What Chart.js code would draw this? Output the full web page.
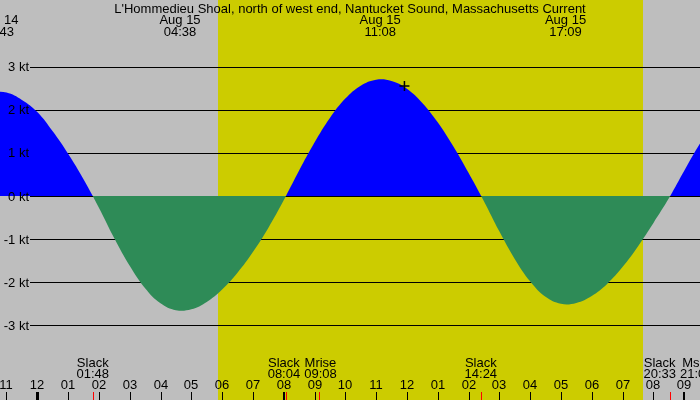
<!DOCTYPE html>
<html>
<head>
<meta charset="utf-8">
<script src="https://cdn.jsdelivr.net/npm/chart.js@4/dist/chart.umd.min.js"></script>
<style>
  html,body{margin:0;padding:0;background:#bebebe;}
  canvas{display:block;}
</style>
</head>
<body>
<canvas id="tide" width="700" height="400"></canvas>
<script>
// current speed read every half hour, hours from midnight Aug 15 (negative = Aug 14)
const hours   = [-1.5, -1.0, -0.5, 0.0, 0.5, 1.0, 1.5, 2.0, 2.5, 3.0, 3.5, 4.0, 4.5, 5.0, 5.5, 6.0,
                 6.5, 7.0, 7.5, 8.0, 8.5, 9.0, 9.5, 10.0, 10.5, 11.0, 11.5, 12.0, 12.5, 13.0, 13.5,
                 14.0, 14.5, 15.0, 15.5, 16.0, 16.5, 17.0, 17.5, 18.0, 18.5, 19.0, 19.5, 20.0, 20.5,
                 21.0, 21.5, 22.0];
const speedKt = [2.41, 2.40, 2.23, 1.95, 1.50, 0.98, 0.39, -0.27, -0.98, -1.62, -2.14, -2.49, -2.65, -2.63, -2.46, -2.17,
                 -1.78, -1.30, -0.74, -0.10, 0.59, 1.24, 1.81, 2.26, 2.56, 2.70, 2.67, 2.49, 2.16, 1.71, 1.16,
                 0.54, -0.12, -0.82, -1.46, -1.98, -2.34, -2.50, -2.48, -2.32, -2.04, -1.65, -1.17, -0.63, -0.06,
                 0.58, 1.20, 1.75];

// "now" marker
const nowHour = 11.92;
const nowKt = 2.55;

// y axis
const yTicks = [3, 2, 1, 0, -1, -2, -3];
const yTickLabels = ['3 kt', '2 kt', '1 kt', '0 kt', '-1 kt', '-2 kt', '-3 kt'];

// hour ticks along the bottom
const hourTicks = [-1, 0, 1, 2, 3, 4, 5, 6, 7, 8, 9, 10, 11, 12, 13, 14, 15, 16, 17, 18, 19, 20, 21];
const hourTickLabels = ['11', '12', '01', '02', '03', '04', '05', '06', '07', '08', '09', '10', '11', '12', '01', '02', '03', '04', '05', '06', '07', '08', '09'];

// max flood / ebb events on top
const peakHours = [-1.283, 4.633, 11.133, 17.15];
const peakDates = ['Aug 14', 'Aug 15', 'Aug 15', 'Aug 15'];
const peakTimes = ['22:43', '04:38', '11:08', '17:09'];

// slack + moon events at the bottom
const eventHours = [1.8, 8.067, 9.133, 14.4, 20.55, 21.05];
const eventNames = ['Slack', 'Slack', 'Mrise', 'Slack', 'Slack', 'Mset'];
const eventTimes = ['01:48', '08:04', '09:08', '14:24', '20:33', '21:03'];
const eventMarked = [true, true, true, true, true, false];

// daylight
const sunrise = 5.867;
const sunset = 19.667;

const FONT = '13px "Liberation Sans", Arial, sans-serif';

const backdrop = {
  id: 'backdrop',
  beforeDraw(chart){
    let c = chart.ctx, x = chart.scales.x, y = chart.scales.y;
    c.save();
    c.fillStyle = '#bebebe';
    c.fillRect(0, 0, chart.width, chart.height);
    let x0 = Math.round(x.getPixelForValue(sunrise)), x1 = Math.round(x.getPixelForValue(sunset));
    c.fillStyle = '#cccc00';
    c.fillRect(x0, 0, x1 - x0, chart.height);
    // grid lines under the fill
    c.strokeStyle = '#000';
    c.lineWidth = 1;
    yTicks.forEach(v => {
      let py = Math.round(y.getPixelForValue(v)) + 0.5;
      c.beginPath(); c.moveTo(30, py); c.lineTo(chart.width, py); c.stroke();
    });
    c.restore();
  }
};

const labels = {
  id: 'labels',
  afterDraw(chart){
    let c = chart.ctx, x = chart.scales.x, y = chart.scales.y;
    c.save();
    c.font = FONT;
    c.fillStyle = '#000';

    // y labels
    c.textAlign = 'right';
    c.textBaseline = 'middle';
    yTicks.forEach((v, i) => c.fillText(yTickLabels[i], 29, y.getPixelForValue(v) + 1));

    // title
    c.textBaseline = 'alphabetic';
    c.textAlign = 'center';
    c.fillText("L'Hommedieu Shoal, north of west end, Nantucket Sound, Massachusetts Current", 350, 12.5);

    // peak labels
    peakHours.forEach((h, i) => {
      let px = x.getPixelForValue(h);
      c.fillText(peakDates[i], px, 24);
      c.fillText(peakTimes[i], px, 36);
    });

    // bottom event labels; overlapping neighbours are pushed apart evenly
    let boxes = eventHours.map((h, i) => {
      let wn = c.measureText(eventNames[i]).width, wt = c.measureText(eventTimes[i]).width;
      let w = Math.max(wn, wt);
      return {left: x.getPixelForValue(h) - w / 2, w, wn, wt};
    });
    for(let i = 1; i < boxes.length; i++){
      let a = boxes[i-1], b = boxes[i];
      let ov = a.left + a.w + 4 - b.left;
      if(ov > 0){ a.left -= ov / 2; b.left += ov / 2; }
    }
    c.textAlign = 'left';
    boxes.forEach((b, i) => {
      c.fillText(eventNames[i], b.left + (b.w - b.wn) / 2, 366.5);
      c.fillText(eventTimes[i], b.left + (b.w - b.wt) / 2, 377.5);
    });

    // hour labels and ticks
    c.textAlign = 'center';
    hourTicks.forEach((h, i) => {
      let px = Math.round(x.getPixelForValue(h));
      c.fillText(hourTickLabels[i], px, 389);
      if(h === 0) c.fillRect(px - 1, 392, 3, 8);
      else if(h === 21 || h === 8) c.fillRect(px - 1, 392, 2, 8);
      else c.fillRect(px, 392, 1, 8);
    });
    c.fillStyle = '#ff0000';
    eventHours.forEach((h, i) => {
      if(!eventMarked[i]) return;
      let px = Math.round(x.getPixelForValue(h));
      c.fillRect(px, 392, 1, 8);
    });
    c.restore();
  }
};

new Chart(document.getElementById('tide'), {
  type: 'line',
  data: {
    datasets: [
      {
        data: hours.map((h, i) => ({x: h, y: speedKt[i]})),
        order: 1,
        borderWidth: 0,
        borderColor: 'rgba(0,0,0,0)',
        pointRadius: 0,
        tension: 0.4,
        fill: {target: 'origin', above: '#0000ff', below: '#2e8b57'}
      },
      {
        type: 'scatter',
        order: 0,
        data: [{x: nowHour, y: nowKt}],
        pointStyle: 'cross',
        pointRadius: 5,
        borderColor: '#000',
        borderWidth: 1.5,
        showLine: false
      }
    ]
  },
  options: {
    responsive: false,
    animation: false,
    layout: {padding: 0, autoPadding: false},
    plugins: {legend: {display: false}, tooltip: {enabled: false}},
    scales: {
      x: {type: 'linear', display: false, min: -1.211, max: 21.516},
      y: {display: false, min: -4.733, max: 4.5476}
    }
  },
  plugins: [backdrop, labels]
});
</script>
</body>
</html>
